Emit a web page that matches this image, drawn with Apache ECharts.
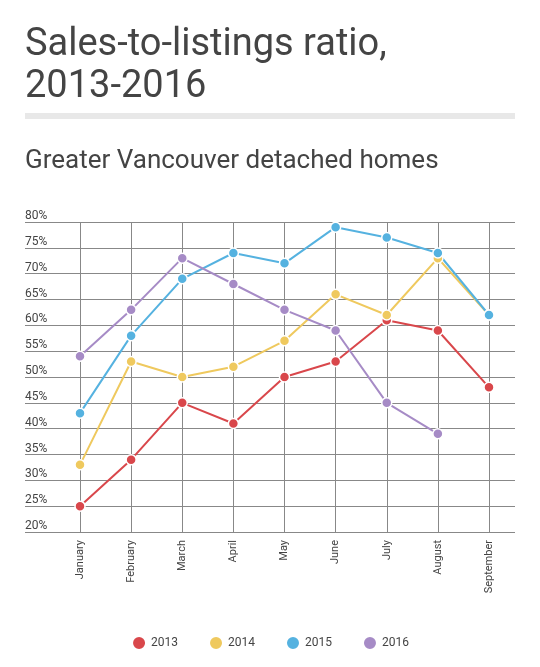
<!DOCTYPE html>
<html>
<head>
<meta charset="utf-8">
<script src="https://cdn.jsdelivr.net/npm/echarts@6/dist/echarts.min.js"></script>
<style>html,body{margin:0;background:#fff}#chart{width:540px;height:667px}</style>
</head>
<body>
<div id="chart"></div>
<script>
var months = ['January', 'February', 'March', 'April', 'May', 'June', 'July', 'August', 'September'];
var s2013 = [25, 34, 45, 41, 50, 53, 61, 59, 48];
var s2014 = [33, 53, 50, 52, 57, 66, 62, 73, 62];
var s2015 = [43, 58, 69, 74, 72, 79, 77, 74, 62];
var s2016 = [54, 63, 73, 68, 63, 59, 45, 39, null];
var names = ['2013', '2014', '2015', '2016'];
var colors = ['#d9474b', '#efc95e', '#55b2e0', '#a68bc6'];

var chart = echarts.init(document.getElementById('chart'));

function line(name, data, color) {
    return {
        name: name, type: 'line', data: data,
        symbol: 'circle', symbolSize: 10,
        lineStyle: { color: color, width: 2 },
        itemStyle: { color: color, borderColor: '#fff', borderWidth: 1.5 }
    };
}

var option = {
    backgroundColor: '#fff',
    textStyle: { fontFamily: 'Roboto' },
    graphic: [
        { type: 'text', left: 25, top: 24, style: { text: 'Sales-to-listings ratio,\n2013-2016', font: '38px Roboto', fill: '#444', lineHeight: 42 } },
        { type: 'rect', shape: { x: 25, y: 113, width: 490, height: 6 }, style: { fill: '#e8e8e8' } },
        { type: 'text', left: 25, top: 148, style: { text: 'Greater Vancouver detached homes', font: '26px Roboto', fill: '#444' } }
    ],
    legend: {
        bottom: 11, left: 'center', icon: 'circle', itemWidth: 14, itemHeight: 14, itemGap: 30,
        data: names, textStyle: { color: '#444', fontSize: 12 }
    },
    grid: [
        { left: 80, right: 51, top: 222, bottom: 135 },
        { left: 25, right: 25, top: 222, bottom: 135 }
    ],
    xAxis: [
        {
            type: 'category', data: months, boundaryGap: false, gridIndex: 0,
            axisLine: { show: false }, axisTick: { show: false },
            splitLine: { show: true, lineStyle: { color: '#888' } },
            axisLabel: { rotate: 90, color: '#444', fontSize: 11, margin: 8 }
        },
        { type: 'category', data: months, gridIndex: 1, show: false }
    ],
    yAxis: [
        { type: 'value', min: 20, max: 80, interval: 5, gridIndex: 0, show: false },
        {
            type: 'value', min: 20, max: 80, interval: 5, gridIndex: 1,
            axisLine: { show: false }, axisTick: { show: false },
            splitLine: { lineStyle: { color: '#888' } },
            axisLabel: { inside: true, verticalAlign: 'bottom', margin: 0, color: '#444', fontSize: 12, formatter: '{value}%' }
        }
    ],
    series: [
        line(names[0], s2013, colors[0]),
        line(names[1], s2014, colors[1]),
        line(names[2], s2015, colors[2]),
        line(names[3], s2016, colors[3])
    ]
};

chart.setOption(option);
</script>
</body>
</html>
